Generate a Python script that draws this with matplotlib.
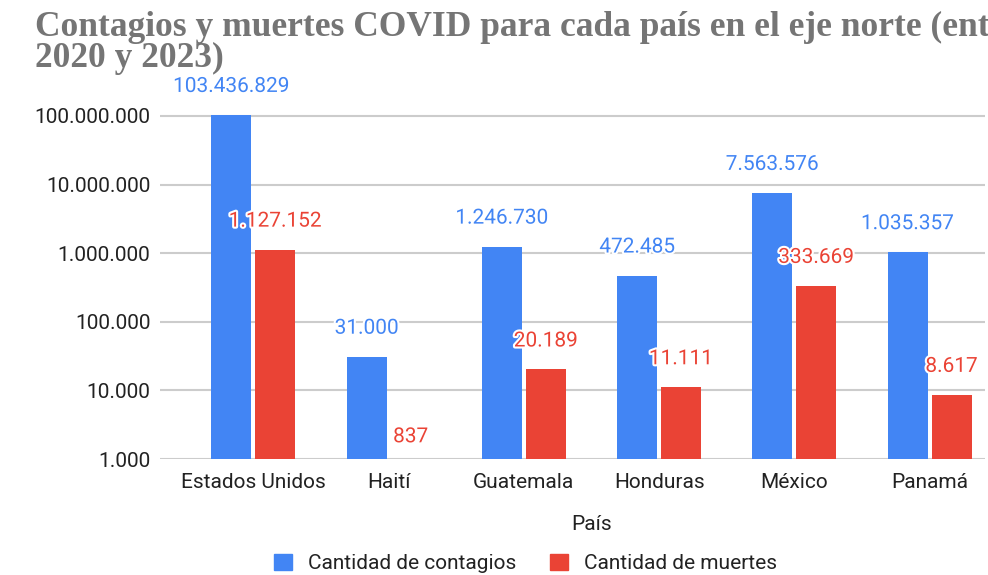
import numpy as np
import matplotlib
matplotlib.use("Agg")
import matplotlib.pyplot as plt
import matplotlib.patheffects as pe
from matplotlib.patches import Patch
from matplotlib.ticker import FixedLocator, FuncFormatter, NullLocator

paises = ["Estados Unidos", "Haití", "Guatemala", "Honduras", "México", "Panamá"]
contagios = [103436829, 31000, 1246730, 472485, 7563576, 1035357]
muertes = [1127152, 837, 20189, 11111, 333669, 8617]
ticks_y = [1e3, 1e4, 1e5, 1e6, 1e7, 1e8]

AZUL = "#4285F4"
ROJO = "#EA4335"


def miles(v):
    return f"{int(round(v)):,}".replace(",", ".")


plt.rcParams["font.family"] = ["Roboto", "DejaVu Sans"]

fig = plt.figure(figsize=(9.88, 5.75), dpi=100)
ax = fig.add_axes([0.162, 0.2017, 0.835, 0.6504])

x = np.arange(len(paises))
w = 0.295
off = 0.1625
base = 1000

ax.bar(x - off, np.array(contagios) - base, w, bottom=base, color=AZUL, zorder=3)
ax.bar(x + off, np.maximum(np.array(muertes) - base, 0), w, bottom=base, color=ROJO, zorder=3)

halo = [pe.withStroke(linewidth=3, foreground="white")]
for xi, c, m in zip(x, contagios, muertes):
    ax.annotate(miles(c), (xi - off, c), xytext=(0, 20.5), textcoords="offset points",
                ha="center", va="center", color=AZUL, fontsize=15, path_effects=halo, zorder=4)
    dy = 20.5 if m >= base else 16
    ax.annotate(miles(m), (xi + off, max(m, base)), xytext=(0, dy), textcoords="offset points",
                ha="center", va="center", color=ROJO, fontsize=15, path_effects=halo, zorder=4)

ax.set_yscale("log")
ax.set_ylim(base, 10 ** 8.45)
ax.set_xlim(-0.69, 5.41)
ax.yaxis.set_major_locator(FixedLocator(ticks_y))
ax.yaxis.set_minor_locator(NullLocator())
ax.yaxis.set_major_formatter(FuncFormatter(lambda v, p: miles(v)))
ax.grid(axis="y", color="#cccccc", linewidth=1.5, zorder=0)
for s in ax.spines.values():
    s.set_visible(False)
ax.tick_params(axis="y", length=0, pad=7, labelsize=15, labelcolor="#222222")
ax.tick_params(axis="x", length=0, pad=10, labelsize=15, labelcolor="#222222")
ax.set_xticks(x)
ax.set_xticklabels(paises)

fig.text(0.599, 0.088, "País", ha="center", va="center", fontsize=15, color="#222222")

fig.text(0.035, 0.937, "Contagios y muertes COVID para cada país en el eje norte (entre",
         family="Liberation Serif", fontweight="bold", fontsize=25.5, color="#757575",
         ha="left", va="baseline")
fig.text(0.035, 0.884, "2020 y 2023)",
         family="Liberation Serif", fontweight="bold", fontsize=25.5, color="#757575",
         ha="left", va="baseline")

handles = [Patch(color=AZUL, label="Cantidad de contagios"),
           Patch(color=ROJO, label="Cantidad de muertes")]
fig.legend(handles=handles, loc="center", bbox_to_anchor=(0.532, 0.02), ncol=2,
           frameon=False, fontsize=15, handlelength=0.85, handleheight=0.85,
           handletextpad=0.8, columnspacing=1.6, labelcolor="#222222")

fig.savefig("out.png", dpi=100)
